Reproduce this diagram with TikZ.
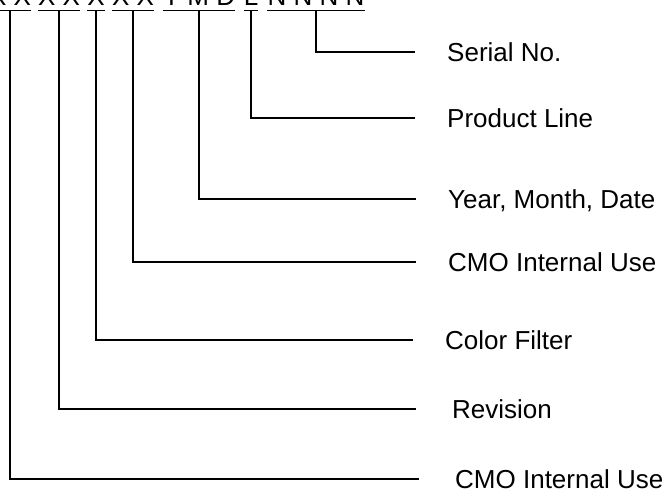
\documentclass[tikz,border=0pt]{standalone}
\usepackage{fontspec}
\setmainfont{Liberation Sans}
\usetikzlibrary{positioning}
\begin{document}
\begin{tikzpicture}[
    x=1pt, y=-1pt,
    font=\fontsize{26}{30}\selectfont,
    code/.style={anchor=base, inner sep=0pt},
    field/.style={anchor=west, inner sep=0pt, text height=18.5pt, text depth=0pt},
    uline/.style={line width=1.6pt},
    lead/.style={line width=1.5pt, shorten >=32pt},
  ]
    \useasboundingbox (0,0) rectangle (668,492);
    % code groups, cut by the top edge
    \node[code] (cmoA) at (10,6) {X X};
    \node[code] (rev) at (59,6) {X X};
    \node[code] (cf) at (96,6) {X};
    \node[code] (cmoB) at (133,6) {X X};
    \node[code] (ymd) at (199,6) {Y M D};
    \node[code] (pl) at (251,6) {L};
    \node[code] (sn) at (316,6) {N N N N};
    \foreach \g in {cmoA,rev,cf,cmoB,ymd,pl,sn}
      \draw[uline] ([yshift=-4.5pt]\g.base west) -- ([yshift=-4.5pt]\g.base east);
    % field names
    \node[field] (lsn) at (447,52) {Serial No.};
    \node[field] (lpl) at (447,118) {Product Line};
    \node[field] (lymd) at (448,199) {Year, Month, Date};
    \node[field] (lcmoB) at (448,262) {CMO Internal Use};
    \node[field] (lcf) at (445,340) {Color Filter};
    \node[field] (lrev) at (452,409) {Revision};
    \node[field] (lcmoA) at (455,479) {CMO Internal Use};
    \draw[lead] ([yshift=-4.5pt]sn.base) |- (lsn.west);
    \draw[lead] ([yshift=-4.5pt]pl.base) |- (lpl.west);
    \draw[lead] ([yshift=-4.5pt]ymd.base) |- (lymd.west);
    \draw[lead] ([yshift=-4.5pt]cmoB.base) |- (lcmoB.west);
    \draw[lead] ([yshift=-4.5pt]cf.base) |- (lcf.west);
    \draw[lead, shorten >=36pt] ([yshift=-4.5pt]rev.base) |- (lrev.west);
    \draw[lead, shorten >=36pt] ([yshift=-4.5pt]cmoA.base) |- (lcmoA.west);
  \end{tikzpicture}
\end{document}
